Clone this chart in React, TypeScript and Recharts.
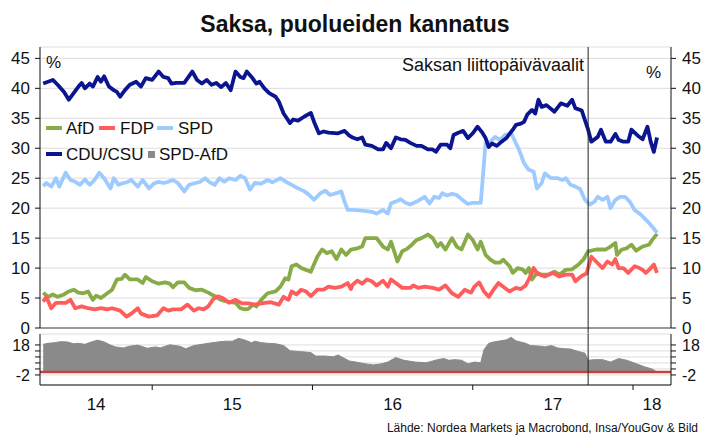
import React from 'react';
import { LineChart, Line, AreaChart, Area, XAxis, YAxis, CartesianGrid, ReferenceLine } from 'recharts';

const FONT = '"Liberation Sans", Arial, sans-serif';

// time axis in decimal years
const X_MIN = 2014.3;
const X_MAX = 2018.237;
const yearTicks = [2015, 2016, 2017, 2018];
const yearLabels = ['14', '15', '16', '17', '18'];
const ELECTION = 2017.72;
const ELECTION_LABEL = 'Saksan liittopäivävaalit';

const mainTicks = [0, 5, 10, 15, 20, 25, 30, 35, 40, 45];
const MAIN_DOMAIN: [number, number] = [0, 46.9];
const diffTicks = [-2, 2, 6, 10, 14, 18];
const diffLabeled = [18, -2];
const DIFF_DOMAIN: [number, number] = [-8.7, 25.3];

const TITLE = 'Saksa, puolueiden kannatus';
const SOURCE = 'Lähde: Nordea Markets ja Macrobond, Insa/YouGov & Bild';

const colors = { afd: '#87ab47', fdp: '#ff5c5c', spd: '#9dcbff', cdu: '#0b1590', diff: '#8a8a8a' };

const afdPoints: [number, number][] = [
  [2014.32, 5.9], [2014.35, 5.2], [2014.38, 5.6], [2014.41, 5.2], [2014.45, 5.6], [2014.48, 6.1], [2014.51, 6.4],
  [2014.54, 5.9], [2014.57, 5.8], [2014.60, 6.1], [2014.63, 4.7], [2014.65, 5.4], [2014.68, 5.0], [2014.72, 5.8],
  [2014.75, 6.4], [2014.78, 8.1], [2014.81, 8.2], [2014.83, 8.9], [2014.86, 8.1], [2014.91, 8.1], [2014.94, 7.5],
  [2014.96, 8.5], [2015.00, 7.8], [2015.04, 7.4], [2015.08, 7.6], [2015.11, 7.4], [2015.13, 6.8], [2015.16, 7.6],
  [2015.20, 7.6], [2015.23, 6.7], [2015.27, 6.3], [2015.31, 6.4], [2015.35, 5.9], [2015.39, 5.3], [2015.43, 4.7],
  [2015.47, 4.4], [2015.52, 4.2], [2015.55, 3.3], [2015.58, 3.1], [2015.60, 3.2], [2015.63, 3.9], [2015.65, 3.6],
  [2015.68, 4.7], [2015.72, 5.8], [2015.77, 6.1], [2015.80, 6.9], [2015.83, 8.3], [2015.85, 8.1], [2015.87, 10.3],
  [2015.90, 10.6], [2015.93, 10.0], [2015.96, 9.7], [2015.99, 9.4], [2016.03, 11.9], [2016.06, 13.1], [2016.09, 12.5],
  [2016.12, 12.8], [2016.15, 11.5], [2016.18, 13.1], [2016.21, 12.2], [2016.24, 13.1], [2016.28, 13.3], [2016.31, 13.6],
  [2016.33, 15.0], [2016.37, 15.0], [2016.40, 15.0], [2016.44, 13.6], [2016.47, 13.1], [2016.49, 14.4], [2016.51, 12.8],
  [2016.53, 11.1], [2016.56, 12.8], [2016.59, 13.2], [2016.62, 13.9], [2016.65, 14.7], [2016.68, 15.0], [2016.72, 15.6],
  [2016.75, 15.0], [2016.78, 13.6], [2016.80, 14.2], [2016.83, 13.1], [2016.87, 15.0], [2016.90, 13.6], [2016.93, 13.1],
  [2016.97, 15.6], [2017.00, 14.7], [2017.03, 13.1], [2017.05, 14.4], [2017.08, 12.2], [2017.11, 11.4], [2017.14, 10.9],
  [2017.17, 10.9], [2017.19, 11.4], [2017.23, 10.3], [2017.25, 9.2], [2017.28, 10.0], [2017.31, 9.8], [2017.33, 9.2],
  [2017.35, 10.0], [2017.37, 8.1], [2017.40, 9.2], [2017.43, 8.9], [2017.47, 8.9], [2017.51, 9.4], [2017.54, 8.9],
  [2017.58, 9.7], [2017.62, 9.8], [2017.66, 10.6], [2017.69, 11.4], [2017.72, 12.8], [2017.77, 13.1], [2017.83, 13.1],
  [2017.86, 13.6], [2017.89, 14.2], [2017.90, 12.2], [2017.93, 13.1], [2017.96, 13.3], [2017.99, 13.9], [2018.02, 12.9],
  [2018.06, 13.6], [2018.10, 13.9], [2018.12, 14.7], [2018.15, 15.7],
];

const fdpPoints: [number, number][] = [
  [2014.32, 4.4], [2014.34, 5.2], [2014.37, 3.3], [2014.40, 4.2], [2014.46, 4.2], [2014.49, 4.7], [2014.52, 3.3],
  [2014.56, 3.6], [2014.60, 3.3], [2014.64, 3.1], [2014.68, 3.3], [2014.72, 3.1], [2014.75, 3.3], [2014.80, 2.9],
  [2014.84, 1.9], [2014.87, 2.4], [2014.91, 3.3], [2014.93, 2.4], [2014.98, 1.9], [2015.03, 2.1], [2015.07, 3.3],
  [2015.10, 2.9], [2015.13, 3.1], [2015.18, 3.1], [2015.22, 3.9], [2015.26, 2.9], [2015.29, 3.3], [2015.32, 3.1],
  [2015.35, 3.6], [2015.38, 4.8], [2015.41, 5.3], [2015.44, 5.0], [2015.48, 4.2], [2015.52, 4.7], [2015.56, 4.1],
  [2015.60, 4.1], [2015.64, 3.9], [2015.68, 4.1], [2015.74, 4.3], [2015.79, 3.9], [2015.82, 5.2], [2015.85, 4.7],
  [2015.87, 6.1], [2015.90, 5.6], [2015.93, 6.4], [2015.96, 6.1], [2015.99, 5.3], [2016.03, 6.4], [2016.07, 6.4],
  [2016.10, 6.9], [2016.14, 6.7], [2016.18, 6.9], [2016.22, 7.5], [2016.24, 6.5], [2016.25, 7.2], [2016.28, 7.9],
  [2016.31, 7.4], [2016.34, 8.1], [2016.37, 7.8], [2016.40, 7.1], [2016.44, 7.9], [2016.47, 6.9], [2016.49, 8.1],
  [2016.52, 7.5], [2016.56, 6.7], [2016.61, 6.7], [2016.63, 7.1], [2016.66, 6.7], [2016.70, 6.9], [2016.75, 6.7],
  [2016.79, 6.4], [2016.83, 7.1], [2016.87, 5.8], [2016.91, 5.2], [2016.95, 6.4], [2016.99, 5.9], [2017.01, 6.9],
  [2017.04, 7.6], [2017.07, 6.1], [2017.10, 5.2], [2017.13, 6.4], [2017.16, 7.5], [2017.19, 6.9], [2017.23, 6.1],
  [2017.27, 6.7], [2017.30, 6.5], [2017.33, 7.1], [2017.35, 8.1], [2017.38, 10.0], [2017.40, 9.2], [2017.42, 8.9],
  [2017.45, 8.6], [2017.50, 9.2], [2017.54, 8.6], [2017.58, 8.9], [2017.62, 8.9], [2017.64, 7.8], [2017.68, 8.7],
  [2017.71, 9.1], [2017.74, 11.9], [2017.78, 10.8], [2017.81, 10.0], [2017.84, 11.1], [2017.87, 10.6], [2017.89, 11.5],
  [2017.91, 10.0], [2017.94, 10.0], [2017.97, 9.2], [2018.01, 10.3], [2018.04, 10.0], [2018.06, 9.7], [2018.08, 9.2],
  [2018.10, 9.7], [2018.13, 10.6], [2018.15, 9.2],
];

const spdPoints: [number, number][] = [
  [2014.32, 23.7], [2014.34, 24.2], [2014.37, 23.6], [2014.40, 25.0], [2014.42, 23.6], [2014.46, 25.9], [2014.49, 24.7],
  [2014.52, 24.4], [2014.55, 23.9], [2014.58, 24.8], [2014.61, 23.9], [2014.64, 24.7], [2014.67, 25.9], [2014.70, 25.0],
  [2014.74, 23.3], [2014.76, 25.0], [2014.79, 23.9], [2014.82, 24.2], [2014.84, 24.3], [2014.87, 24.7], [2014.91, 23.6],
  [2014.94, 24.7], [2014.98, 23.3], [2015.01, 24.1], [2015.04, 24.4], [2015.07, 24.2], [2015.10, 24.4], [2015.13, 24.7],
  [2015.16, 24.2], [2015.20, 22.8], [2015.23, 23.9], [2015.27, 24.2], [2015.30, 24.4], [2015.33, 25.0], [2015.36, 24.3],
  [2015.39, 23.9], [2015.42, 25.0], [2015.45, 24.4], [2015.48, 25.0], [2015.52, 24.7], [2015.55, 25.4], [2015.58, 25.0],
  [2015.61, 23.1], [2015.64, 24.2], [2015.68, 24.1], [2015.72, 24.7], [2015.75, 24.3], [2015.80, 25.0], [2015.84, 24.3],
  [2015.87, 23.9], [2015.91, 23.3], [2015.95, 22.8], [2015.98, 22.2], [2016.01, 21.4], [2016.05, 22.5], [2016.08, 22.9],
  [2016.11, 22.2], [2016.15, 22.5], [2016.18, 22.8], [2016.20, 21.1], [2016.22, 19.7], [2016.25, 19.7], [2016.31, 19.6],
  [2016.37, 19.4], [2016.40, 19.1], [2016.44, 19.7], [2016.47, 19.1], [2016.49, 20.8], [2016.52, 21.1], [2016.55, 21.5],
  [2016.58, 20.9], [2016.61, 20.6], [2016.65, 21.1], [2016.70, 21.9], [2016.73, 20.8], [2016.76, 21.9], [2016.79, 21.7],
  [2016.81, 22.5], [2016.84, 22.1], [2016.87, 22.4], [2016.90, 22.2], [2016.93, 21.5], [2016.97, 20.7], [2017.00, 20.9],
  [2017.05, 20.9], [2017.08, 30.8], [2017.11, 31.1], [2017.14, 31.9], [2017.17, 31.4], [2017.20, 32.2], [2017.24, 32.5],
  [2017.27, 30.8], [2017.29, 29.7], [2017.32, 27.5], [2017.35, 26.4], [2017.38, 26.1], [2017.40, 23.3], [2017.43, 24.2],
  [2017.45, 25.8], [2017.49, 25.0], [2017.53, 25.0], [2017.56, 24.7], [2017.58, 25.0], [2017.61, 23.9], [2017.64, 23.6],
  [2017.67, 23.2], [2017.70, 21.4], [2017.73, 20.6], [2017.76, 21.1], [2017.78, 21.9], [2017.81, 21.4], [2017.84, 21.9],
  [2017.86, 20.0], [2017.89, 21.4], [2017.92, 21.9], [2017.95, 21.9], [2017.98, 21.1], [2018.01, 19.7], [2018.05, 18.9],
  [2018.09, 17.8], [2018.12, 16.9], [2018.15, 15.9],
];

const cduPoints: [number, number][] = [
  [2014.32, 40.8], [2014.35, 41.1], [2014.38, 41.4], [2014.41, 40.6], [2014.45, 39.4], [2014.48, 38.1], [2014.51, 39.2],
  [2014.54, 40.3], [2014.56, 40.9], [2014.58, 40.0], [2014.61, 40.8], [2014.63, 40.3], [2014.66, 41.9], [2014.68, 41.1],
  [2014.70, 42.0], [2014.73, 40.3], [2014.76, 39.7], [2014.78, 39.4], [2014.80, 38.6], [2014.83, 39.7], [2014.86, 40.6],
  [2014.90, 41.1], [2014.93, 40.3], [2014.96, 41.7], [2015.00, 41.4], [2015.04, 42.8], [2015.07, 41.9], [2015.10, 41.7],
  [2015.12, 40.8], [2015.15, 40.9], [2015.20, 40.9], [2015.25, 42.8], [2015.28, 41.4], [2015.31, 40.8], [2015.34, 41.4],
  [2015.37, 40.6], [2015.40, 40.9], [2015.43, 40.2], [2015.46, 40.9], [2015.49, 39.7], [2015.52, 42.8], [2015.55, 41.9],
  [2015.57, 41.7], [2015.59, 42.8], [2015.62, 41.9], [2015.65, 40.8], [2015.67, 41.1], [2015.70, 40.0], [2015.73, 39.2],
  [2015.77, 38.6], [2015.79, 37.8], [2015.82, 35.8], [2015.84, 35.0], [2015.86, 34.2], [2015.88, 34.8], [2015.91, 34.6],
  [2015.95, 35.3], [2015.99, 35.9], [2016.01, 34.4], [2016.04, 32.5], [2016.07, 32.8], [2016.10, 32.6], [2016.16, 32.5],
  [2016.20, 32.9], [2016.23, 32.1], [2016.25, 31.8], [2016.28, 31.5], [2016.31, 31.8], [2016.33, 30.6], [2016.37, 30.4],
  [2016.41, 29.8], [2016.44, 29.8], [2016.46, 30.9], [2016.49, 30.0], [2016.52, 31.8], [2016.55, 31.5], [2016.58, 31.4],
  [2016.61, 30.9], [2016.65, 30.4], [2016.68, 30.4], [2016.72, 29.8], [2016.75, 29.8], [2016.77, 29.4], [2016.80, 30.6],
  [2016.84, 30.6], [2016.86, 30.0], [2016.88, 32.2], [2016.91, 32.6], [2016.94, 32.9], [2016.97, 31.7], [2017.00, 32.5],
  [2017.03, 33.6], [2017.06, 32.6], [2017.08, 31.7], [2017.10, 30.2], [2017.12, 30.8], [2017.15, 30.4], [2017.18, 31.1],
  [2017.21, 31.7], [2017.25, 33.1], [2017.27, 33.9], [2017.30, 34.1], [2017.32, 34.4], [2017.34, 35.6], [2017.37, 36.4],
  [2017.39, 35.8], [2017.41, 38.1], [2017.43, 36.9], [2017.46, 37.2], [2017.51, 36.1], [2017.55, 37.5], [2017.59, 37.1],
  [2017.62, 38.1], [2017.64, 36.7], [2017.68, 36.3], [2017.70, 34.7], [2017.72, 33.1], [2017.74, 31.1], [2017.78, 31.9],
  [2017.80, 33.1], [2017.83, 31.1], [2017.86, 31.1], [2017.89, 32.4], [2017.91, 31.4], [2017.94, 31.1], [2017.97, 31.1],
  [2017.99, 33.1], [2018.03, 32.1], [2018.06, 31.5], [2018.09, 33.6], [2018.11, 31.1], [2018.13, 29.4], [2018.15, 31.8],
];

const spdAfdPoints: [number, number][] = [
  [2014.32, 18.4], [2014.35, 19.1], [2014.39, 19.5], [2014.43, 20.2], [2014.47, 20.0], [2014.51, 18.8], [2014.54, 19.1],
  [2014.58, 18.4], [2014.62, 20.0], [2014.66, 21.2], [2014.70, 20.0], [2014.74, 17.9], [2014.77, 16.7], [2014.82, 16.0],
  [2014.86, 17.2], [2014.91, 17.9], [2014.97, 15.8], [2015.02, 16.7], [2015.05, 16.0], [2015.11, 18.1], [2015.17, 17.2],
  [2015.21, 15.5], [2015.26, 17.6], [2015.31, 18.4], [2015.35, 19.1], [2015.41, 20.0], [2015.46, 20.5], [2015.50, 20.5],
  [2015.54, 22.4], [2015.58, 21.2], [2015.62, 19.5], [2015.64, 20.5], [2015.68, 19.5], [2015.72, 19.1], [2015.77, 18.8],
  [2015.82, 17.6], [2015.86, 14.1], [2015.92, 13.6], [2015.99, 12.9], [2016.02, 10.6], [2016.08, 10.6], [2016.13, 10.1],
  [2016.16, 11.3], [2016.23, 7.3], [2016.27, 6.6], [2016.33, 5.4], [2016.38, 4.7], [2016.43, 5.4], [2016.47, 6.6],
  [2016.52, 9.6], [2016.57, 7.8], [2016.64, 6.6], [2016.71, 6.1], [2016.78, 8.2], [2016.82, 8.9], [2016.85, 7.8],
  [2016.89, 8.2], [2016.93, 7.8], [2016.97, 5.4], [2017.01, 6.6], [2017.05, 6.1], [2017.07, 14.8], [2017.10, 19.1],
  [2017.13, 20.0], [2017.17, 20.7], [2017.21, 21.4], [2017.24, 23.1], [2017.27, 20.7], [2017.33, 19.1], [2017.36, 17.6],
  [2017.42, 17.2], [2017.45, 16.7], [2017.49, 17.6], [2017.53, 16.0], [2017.57, 15.5], [2017.61, 15.3], [2017.66, 13.6],
  [2017.70, 12.5], [2017.72, 7.8], [2017.76, 8.2], [2017.81, 8.2], [2017.86, 6.6], [2017.91, 8.9], [2017.96, 7.8],
  [2018.01, 5.9], [2018.07, 3.5], [2018.12, 1.9], [2018.14, 0.7],
];

const toRows = (pts: [number, number][]) => pts.map(([t, v]) => ({ t, v }));

const lineSeries = [
  { name: 'AfD', color: colors.afd, rows: toRows(afdPoints) },
  { name: 'FDP', color: colors.fdp, rows: toRows(fdpPoints) },
  { name: 'SPD', color: colors.spd, rows: toRows(spdPoints) },
  { name: 'CDU/CSU', color: colors.cdu, rows: toRows(cduPoints) },
];
const diffRows = toRows(spdAfdPoints);

// year labels sit in the middle of each (visible) year
const bounds = [X_MIN, ...yearTicks, X_MAX];
const labelMids = bounds.slice(1).map((b, i) => (b + bounds[i]) / 2);
const labelByValue = new Map(labelMids.map((m, i) => [m, yearLabels[i]]));
const xTicks = [...labelMids, ...yearTicks].sort((a, b) => a - b);

const YearTick = (props: any) => {
  const { x, y, payload } = props;
  const v = payload.value;
  if (labelByValue.has(v)) {
    return (
      <text x={x} y={y + 13} dy="0.71em" textAnchor="middle" fontSize={17} fill="#111" fontFamily={FONT}>
        {labelByValue.get(v)}
      </text>
    );
  }
  return <line x1={x} x2={x} y1={y} y2={y + 5} stroke="#111" strokeWidth={1} />;
};

const axisTick = { fill: '#111', fontSize: 17, fontFamily: FONT };
const smallTick = { fill: '#111', fontSize: 16, fontFamily: FONT };

function Legend() {
  const row1 = [
    { s: lineSeries[0], sx: 46, tx: 66 },
    { s: lineSeries[1], sx: 99, tx: 120 },
    { s: lineSeries[2], sx: 157, tx: 178 },
  ];
  return (
    <g fontFamily={FONT} fontSize={17} fill="#111">
      {row1.map((it) => (
        <g key={it.s.name}>
          <rect x={it.sx} y={126} width={16} height={4} fill={it.s.color} />
          <text x={it.tx} y={134.3}>{it.s.name}</text>
        </g>
      ))}
      <rect x={46} y={152} width={16} height={4} fill={colors.cdu} />
      <text x={66} y={160.3}>CDU/CSU</text>
      <rect x={148} y={151} width={7} height={7} fill={colors.diff} />
      <text x={159} y={160.3}>SPD-AfD</text>
    </g>
  );
}

export default function App() {
  return (
    <div style={{ position: 'absolute', left: 0, top: 0, width: 710, height: 448, background: '#fff', fontFamily: FONT }}>
      <div style={{ position: 'absolute', left: 0, top: 0 }}>
        <LineChart width={710} height={342} margin={{ top: 47, right: 0, bottom: 14, left: 0 }}>
          <CartesianGrid yAxisId="l" vertical={false} stroke="#dddddd" />
          <XAxis type="number" dataKey="t" domain={[X_MIN, X_MAX]} allowDataOverflow hide />
          <YAxis yAxisId="l" domain={MAIN_DOMAIN} ticks={mainTicks} allowDataOverflow width={40}
            axisLine={{ stroke: '#111' }} tickLine={{ stroke: '#111' }} tickSize={5} tickMargin={5} tick={axisTick} interval={0} />
          <YAxis yAxisId="r" orientation="right" domain={MAIN_DOMAIN} ticks={mainTicks} allowDataOverflow width={39}
            axisLine={{ stroke: '#111' }} tickLine={{ stroke: '#111' }} tickSize={5} tickMargin={6} tick={axisTick} interval={0} />
          <ReferenceLine yAxisId="l" y={0} stroke="#9a9a9a" strokeWidth={2} />
          {lineSeries.map((s) => (
            <Line key={s.name} yAxisId="l" data={s.rows} dataKey="v" name={s.name} type="linear"
              stroke={s.color} strokeWidth={3.8} strokeLinejoin="round" dot={false} activeDot={false}
              isAnimationActive={false} />
          ))}
          <ReferenceLine yAxisId="l" ifOverflow="visible" stroke="#222" strokeWidth={1}
            segment={[{ x: ELECTION, y: -1.05 }, { x: ELECTION, y: MAIN_DOMAIN[1] }]}
            label={(p: any) => (
              <text x={p.viewBox.x - 4} y={p.viewBox.y + 23.6} textAnchor="end" fontSize={18} fill="#111" fontFamily={FONT}>
                {ELECTION_LABEL}
              </text>
            )} />
        </LineChart>
      </div>
      <div style={{ position: 'absolute', left: 0, top: 320 }}>
        <AreaChart width={710} height={100} margin={{ top: 14, right: 0, bottom: 0, left: 0 }}>
          <CartesianGrid yAxisId="l" vertical={false} stroke="#dddddd" />
          <XAxis type="number" dataKey="t" domain={[X_MIN, X_MAX]} allowDataOverflow ticks={xTicks} interval={0}
            height={35} axisLine={{ stroke: '#111' }} tickLine={false} tickSize={0} tickMargin={0} tick={<YearTick />} />
          <YAxis yAxisId="l" domain={DIFF_DOMAIN} ticks={diffTicks} allowDataOverflow width={40} interval={0}
            axisLine={{ stroke: '#111' }} tickLine={{ stroke: '#111' }} tickSize={5} tickMargin={5} tick={smallTick}
            tickFormatter={(v: number) => (diffLabeled.includes(v) ? String(v) : '')} />
          <YAxis yAxisId="r" orientation="right" domain={DIFF_DOMAIN} ticks={diffTicks} allowDataOverflow width={39} interval={0}
            axisLine={{ stroke: '#111' }} tickLine={{ stroke: '#111' }} tickSize={5} tickMargin={6} tick={smallTick}
            tickFormatter={(v: number) => (diffLabeled.includes(v) ? String(v) : '')} />
          <Area yAxisId="l" data={diffRows} dataKey="v" name="SPD-AfD" type="linear" fill={colors.diff} fillOpacity={1}
            stroke={colors.diff} strokeWidth={1} dot={false} activeDot={false} isAnimationActive={false} />
          <ReferenceLine yAxisId="l" y={0} stroke="#c9403f" strokeWidth={2.5} />
          <ReferenceLine yAxisId="l" x={ELECTION} stroke="#222" strokeWidth={1} />
        </AreaChart>
      </div>
      <svg width={710} height={448} style={{ position: 'absolute', left: 0, top: 0, pointerEvents: 'none' }}>
        <text x={355} y={31.5} textAnchor="middle" fontSize={23} fontWeight="bold" fill="#111" fontFamily={FONT}>{TITLE}</text>
        <text x={46} y={68.3} fontSize={17} fill="#111" fontFamily={FONT}>%</text>
        <text x={646} y={77.5} fontSize={17} fill="#111" fontFamily={FONT}>%</text>
        <Legend />
        <text x={698} y={432} textAnchor="end" fontSize={12} fill="#111" fontFamily={FONT}>{SOURCE}</text>
      </svg>
    </div>
  );
}
